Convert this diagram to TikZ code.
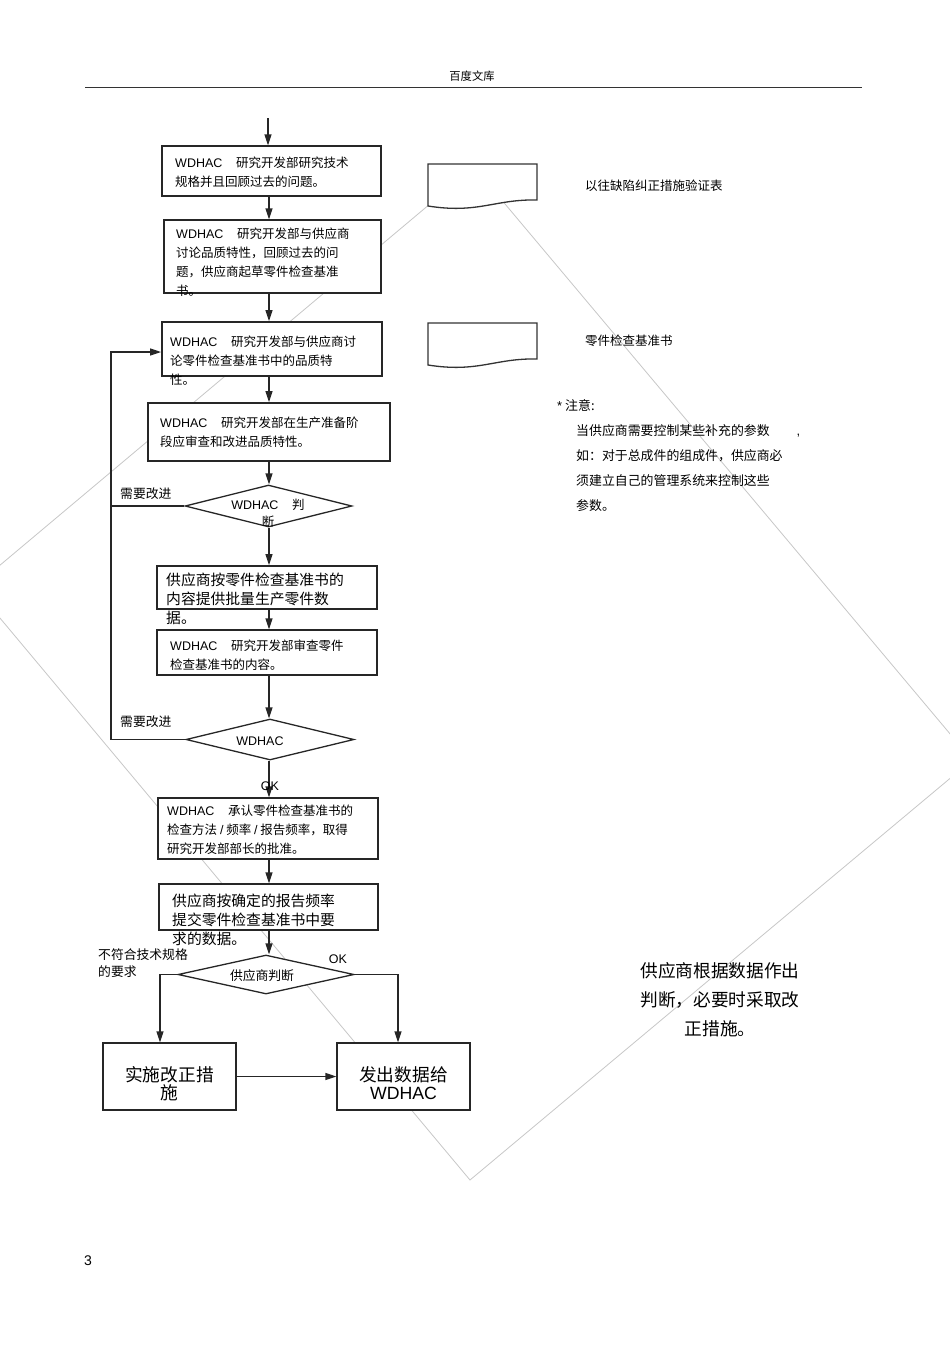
\documentclass[tikz,border=0pt]{standalone}
\usepackage{fontspec}
\setmainfont{Liberation Sans}
\newfontfamily\cjk{Noto Sans CJK SC}
\usetikzlibrary{arrows.meta,shapes.geometric}
\newcommand\WDH{{\rmfamily WDHAC}}
\tikzset{
 box/.style={draw=black!85, line width=1.3pt, fill=white, inner sep=0pt},
 thickbox/.style={box, line width=1.8pt},
 dia/.style={diamond, draw=black!85, line width=1.3pt, fill=white, inner sep=0pt},
 arr/.style={draw=black!85, line width=1.3pt, -{Triangle[length=11pt,width=7pt]}},
 ln/.style={draw=black!85, line width=1.3pt},
 doc/.style={draw=black!80, line width=1.3pt, fill=white},
 wm/.style={draw=black!22, line width=0.8pt},
 tx/.style={font={\cjk\fontsize{12.5}{19}\selectfont}, align=left, anchor=base west, inner sep=0pt},
 txb/.style={font={\cjk\fontsize{14.8}{19}\selectfont}, align=left, anchor=base west, inner sep=0pt},
 txl/.style={font={\cjk\fontsize{17.7}{18}\selectfont}, align=center, anchor=base, inner sep=0pt},
 lbl/.style={font={\cjk\fontsize{12.8}{17}\selectfont}, align=left, anchor=base west, inner sep=0pt},
 note/.style={font={\cjk\fontsize{12.9}{25}\selectfont}, align=left, anchor=base west, inner sep=0pt},
}
\begin{document}
\begin{tikzpicture}[x=1pt,y=-1pt]
\useasboundingbox (0,0) rectangle (950,1345);
% header
\node[font={\cjk\fontsize{11.3}{13}\selectfont}, anchor=base, inner sep=0pt] (hdr) at (472,80.3) {百度文库};
\draw[draw=black!80, line width=0.9pt] (85,87) -- (862,87);
% watermark
\draw[wm] (474,167) -- (972,760) -- (470,1180) -- (-26,587) -- cycle;
% documents
\draw[doc] (428,164) -- (537,164) -- (537,200) .. controls (495,199) and (478,214) .. (428,206) -- cycle;
\draw[doc] (428,323) -- (537,323) -- (537,359) .. controls (495,358) and (478,373) .. (428,365) -- cycle;
% boxes
\node[box, minimum width=219pt, minimum height=50pt] (b1) at (271.5,171) {};
\node[box, minimum width=217pt, minimum height=73pt] (b2) at (272.5,256.5) {};
\node[thickbox, minimum width=220pt, minimum height=54pt] (b3) at (272,349) {};
\node[thickbox, minimum width=242pt, minimum height=58pt] (b4) at (269,432) {};
\node[dia, minimum width=167pt, minimum height=42pt] (d1) at (268.5,506) {};
\node[thickbox, minimum width=220pt, minimum height=43pt] (b5) at (267,587.5) {};
\node[box, minimum width=220pt, minimum height=45pt] (b6) at (267,652.5) {};
\node[dia, minimum width=168pt, minimum height=41pt] (d2) at (270,739.5) {};
\node[box, minimum width=220pt, minimum height=61pt] (b7) at (268,828.5) {};
\node[box, minimum width=219pt, minimum height=46pt] (b8) at (268.5,907) {};
\node[dia, minimum width=176pt, minimum height=39pt] (d3) at (266,974.5) {};
\node[box, minimum width=133pt, minimum height=67pt] (b9) at (169.5,1076.5) {};
\node[box, minimum width=133pt, minimum height=67pt] (b10) at (403.5,1076.5) {};
% connector helpers
\coordinate (top) at (268,118);
\coordinate (ax) at (269,0);
\coordinate (L) at (111,352);
\coordinate (c9) at (160,0);
\coordinate (c10) at (398,0);
% connectors
\draw[arr] (top) -- (top |- b1.north);
\draw[arr] (b1.south -| ax) -- (b2.north -| ax);
\draw[arr] (b2.south -| ax) -- (b3.north -| ax);
\draw[arr] (b3.south -| ax) -- (b4.north -| ax);
\draw[arr] (b4.south -| ax) -- (d1.north -| ax);
\draw[arr] (d1.south -| ax) -- (b5.north -| ax);
\draw[arr] (b5.south -| ax) -- (b6.north -| ax);
\draw[arr] (b6.south -| ax) -- (d2.north -| ax);
\draw[arr] (d2.south -| ax) -- (b7.north -| ax);
\draw[arr] (b7.south -| ax) -- (b8.north -| ax);
\draw[arr] (b8.south -| ax) -- (d3.north -| ax);
\draw[arr] (d1.west) -- (d1.west -| L) -- (L) -- (b3.west |- L);
\draw[ln] (d2.west) -- (d2.west -| L) -- (d1.west -| L);
\draw[arr] (d3.west) -- (d3.west -| c9) -- (c9 |- b9.north);
\draw[arr] (d3.east) -- (d3.east -| c10) -- (c10 |- b10.north);
\draw[arr] (b9.east) -- (b10.west);
% box texts (anchor = baseline of the last line)
\node[tx] (t1) at (175,186.75) {\WDH\hspace{1.1em}研究开发部研究技术\\规格并且回顾过去的问题。};
\node[tx] (t2) at (176,295.75) {\WDH\hspace{1.1em}研究开发部与供应商\\讨论品质特性，回顾过去的问\\题，供应商起草零件检查基准\\书。};
\node[tx] (t3) at (170,384.75) {\WDH\hspace{1.1em}研究开发部与供应商讨\\论零件检查基准书中的品质特\\性。};
\node[tx] (t4) at (160,446.75) {\WDH\hspace{1.1em}研究开发部在生产准备阶\\段应审查和改进品质特性。};
\node[tx, align=center, anchor=base] (td1) at (268,526.75) {\WDH\hspace{1.1em}判\\[-2pt]断};
\node[txb] (t5) at (166,623.6) {供应商按零件检查基准书的\\内容提供批量生产零件数\\据。};
\node[tx] (t6) at (170,669.75) {\WDH\hspace{1.1em}研究开发部审查零件\\检查基准书的内容。};
\node[tx, anchor=base] (td2) at (260,745.5) {\WDH};
\node[tx, anchor=base] (ok1) at (270,790.5) {\rmfamily OK};
\node[tx] (t7) at (167,853.75) {\WDH\hspace{1.1em}承认零件检查基准书的\\检查方法 {\rmfamily /} 频率 {\rmfamily /} 报告频率，取得\\研究开发部部长的批准。};
\node[txb] (t8) at (172,944.6) {供应商按确定的报告频率\\提交零件检查基准书中要\\求的数据。};
\node[lbl] (ng) at (98,976.9) {不符合技术规格\\的要求};
\node[tx, anchor=base] (ok2) at (338,963.5) {\rmfamily OK};
\node[lbl, anchor=base] (td3) at (262,980.9) {供应商判断};
\node[txl] (t9) at (169.5,1099.7) {实施改正措\\施};
\node[txl] (t10) at (403.5,1099.7) {发出数据给\\{\rmfamily WDHAC}};
\node[lbl] (imp1) at (120,498.9) {需要改进};
\node[lbl] (imp2) at (120,726.9) {需要改进};
% right side texts
\node[tx] (doc1t) at (585,190.8) {以往缺陷纠正措施验证表};
\node[tx] (doc2t) at (585,345.8) {零件检查基准书};
\node[note] (nt0) at (557,410.9) {{\rmfamily *}\hspace{3pt}注意:};
\node[note] (nt) at (576,510.9) {当供应商需要控制某些补充的参数\hspace{27pt}{\rmfamily ,}\\如：对于总成件的组成件，供应商必\\须建立自己的管理系统来控制这些\\参数。};
\node[font={\cjk\fontsize{17.7}{29}\selectfont}, align=center, anchor=base, inner sep=0pt] (rt) at (720,1035.7) {供应商根据数据作出\\判断，必要时采取改\\正措施。};
\node[font={\fontsize{14}{16}\selectfont}, anchor=base west, inner sep=0pt] (pg) at (84,1265) {3};
\end{tikzpicture}
\end{document}
